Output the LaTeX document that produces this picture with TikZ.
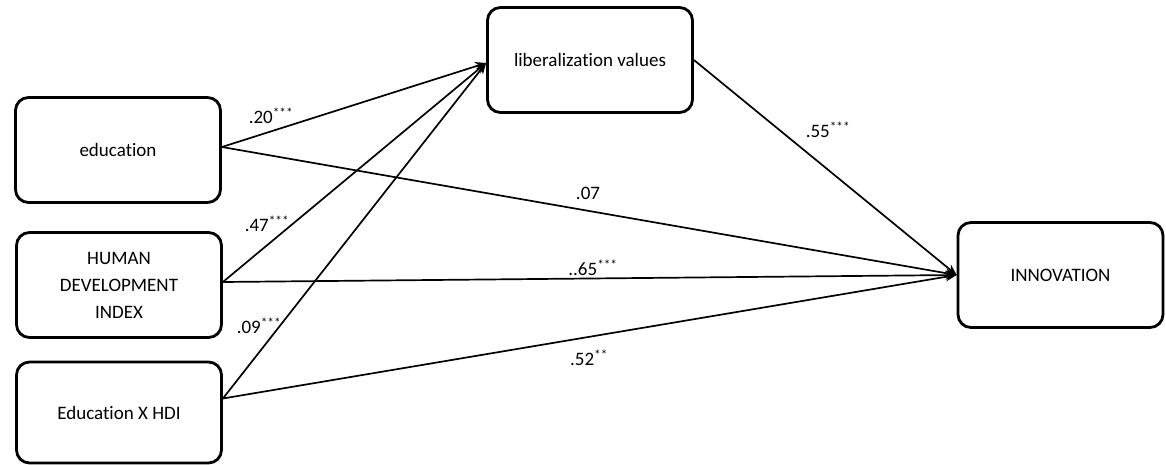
\documentclass[tikz,border=0pt]{standalone}
\usepackage{fontspec}
\setmainfont[Ligatures={NoCommon,NoRare,NoDiscretionary}]{Carlito}
\usetikzlibrary{arrows.meta,calc}
\begin{document}
\begin{tikzpicture}[x=1pt,y=-1pt,
  varbox/.style={draw=black,line width=2.8pt,rounded corners=13pt,fill=white,
    minimum width=205pt,minimum height=105pt,inner sep=0pt,align=center,
    font=\fontsize{19}{27}\selectfont},
  path/.style={line width=1.7pt,-{Stealth[length=11pt,width=9pt]}},
  coef/.style={font=\fontsize{19}{21}\selectfont,inner sep=1pt}]
\useasboundingbox (0,0) rectangle (1166,465);
\node[varbox] (edu) at (118,150) {education};
\node[varbox] (hdi) at (119,285) {HUMAN\\DEVELOPMENT\\INDEX};
\node[varbox,minimum height=101pt] (exh) at (119,412.5) {Education X HDI};
\node[varbox] (lib) at (590,60) {liberalization values};
\node[varbox] (inn) at (1060.5,275) {INNOVATION};
\coordinate (exhout) at ($(exh.east)+(0,-14)$);
\coordinate (libin) at ($(lib.west)+(0,3)$);
\coordinate (hdiout) at ($(hdi.east)+(0,-3)$);
\coordinate (eduout) at ($(edu.east)+(0,-3)$);
\draw[path] (eduout) -- (libin);
\draw[path] (hdiout) -- (libin);
\draw[path] (exhout) -- (libin);
\draw[path] (eduout) -- (inn.west);
\draw[path] (hdiout) -- (inn.west);
\draw[path] (exhout) -- (inn.west);
\draw[path] (lib.east) -- (inn.west);
\node[coef] (c1) at (271,116) {.20\textsuperscript{***}};
\node[coef] (c2) at (267,224) {.47\textsuperscript{***}};
\node[coef] (c3) at (259,326) {.09\textsuperscript{***}};
\node[coef] (c4) at (588,193) {.07};
\node[coef] (c5) at (593,268) {..65\textsuperscript{***}};
\node[coef] (c6) at (589,358) {.52\textsuperscript{**}};
\node[coef] (c7) at (828,130) {.55\textsuperscript{***}};
\end{tikzpicture}
\end{document}
